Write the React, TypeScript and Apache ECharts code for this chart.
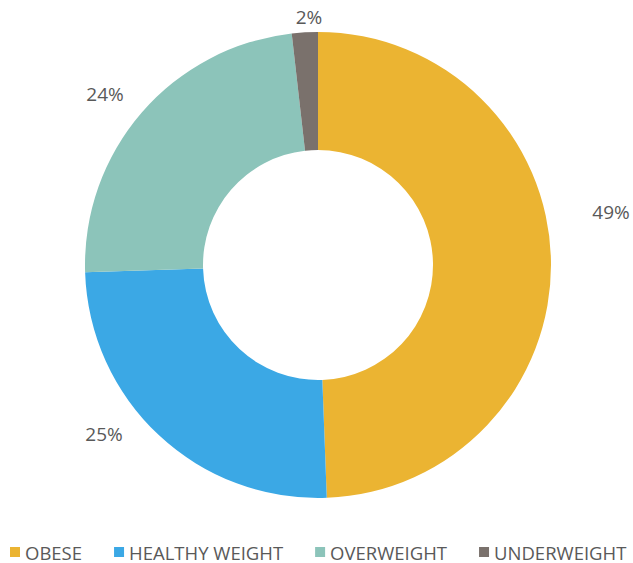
import React, { useEffect, useRef } from "react";
import * as echarts from "echarts";

const categories = ["OBESE", "HEALTHY WEIGHT", "OVERWEIGHT", "UNDERWEIGHT"];
const values = [49.4, 25.1, 23.7, 1.8];
const colors = ["#EBB432", "#3BA8E5", "#8CC4BA", "#7A716C"];
const labelPos: [number, number][] = [
  [611, 212],
  [104, 434],
  [105, 94],
  [309, 17],
];

export default function App() {
  const ref = useRef<HTMLDivElement>(null);
  useEffect(() => {
    if (!ref.current) return;
    const chart = echarts.init(ref.current, null, { renderer: "svg" });
    chart.setOption({
      animation: false,
      color: colors,
      legend: {
        top: 541,
        left: 10,
        padding: 0,
        icon: "rect",
        itemWidth: 10,
        itemHeight: 10,
        itemGap: 32,
        textStyle: { color: "#595959", fontSize: 18.5, lineHeight: 22, fontFamily: "Open Sans" },
        data: categories,
      },
      series: [
        {
          type: "pie",
          center: [318, 265],
          radius: [115, 233],
          startAngle: 90,
          clockwise: true,
          label: {
            show: true,
            formatter: (p: any) => Math.round(p.value) + "%",
            color: "#595959",
            fontSize: 19,
            fontFamily: "Open Sans",
            overflow: "none",
          },
          labelLine: { show: false },
          labelLayout: (p: any) => {
            const pos = labelPos[p.dataIndex];
            return { x: pos[0], y: pos[1], align: "center", verticalAlign: "middle" };
          },
          emphasis: { disabled: true },
          data: categories.map((c, i) => ({ name: c, value: values[i] })),
        },
      ],
    });
    return () => chart.dispose();
  }, []);
  return <div ref={ref} style={{ width: 633, height: 563, position: "absolute", left: 0, top: 0 }} />;
}
